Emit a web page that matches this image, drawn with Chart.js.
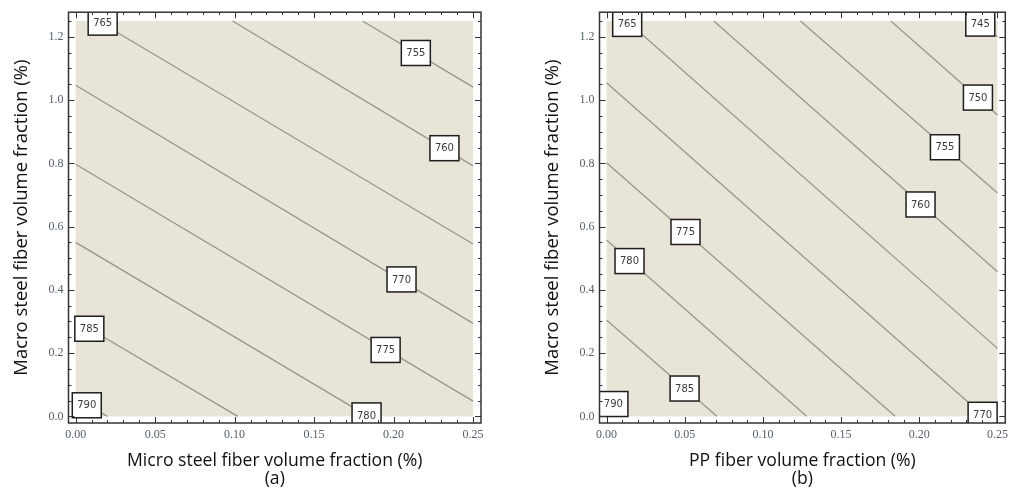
<!DOCTYPE html>
<html>
<head>
<meta charset="utf-8">
<script src="https://cdn.jsdelivr.net/npm/chart.js@4.4.1/dist/chart.umd.min.js"></script>
<style>
  body { margin: 0; background: #fff; width: 1013px; height: 498px; position: relative; overflow: hidden; }
  .plot { position: absolute; top: 0; height: 498px; }
  #plotA { left: 0; width: 500px; }
  #plotB { left: 531px; width: 482px; }
</style>
</head>
<body>
<div class="plot" id="plotA"><canvas id="chartA"></canvas></div>
<div class="plot" id="plotB"><canvas id="chartB"></canvas></div>
<script>
// ***** DATA *****

// shared axes
const xTicks = [0.00, 0.05, 0.10, 0.15, 0.20, 0.25];
const yTicks = [0.0, 0.2, 0.4, 0.6, 0.8, 1.0, 1.2];
const xDomain = [0, 0.25];
const yDomain = [0, 1.25];

// (a) micro steel vs macro steel
const levelsA = [755, 760, 765, 770, 775, 780, 785, 790];
const lineStartA = [[0.1805, 1.25], [0.0987, 1.25], [0.014, 1.25], [0, 1.047], [0, 0.797], [0, 0.550], [0, 0.303], [0, 0.056]];
const lineEndA = [[0.25, 1.041], [0.25, 0.792], [0.25, 0.545], [0.25, 0.294], [0.25, 0.048], [0.184, 0], [0.102, 0], [0.020, 0]];
const labelAtA = [[0.214, 1.149], [0.232, 0.848], [0.017, 1.245], [0.205, 0.433], [0.195, 0.210], [0.183, 0.003], [0.0086, 0.277], [0.007, 0.035]];

// (b) PP fiber vs macro steel
const levelsB = [745, 750, 755, 760, 765, 770, 775, 780, 785, 790];
const lineStartB = [[0.239, 1.25], [0.1818, 1.25], [0.124, 1.25], [0.0686, 1.25], [0.013, 1.25], [0, 1.055], [0, 0.802], [0, 0.558], [0, 0.305], [0, 0.052]];
const lineEndB = [[0.25, 1.200], [0.25, 0.953], [0.25, 0.706], [0.25, 0.457], [0.25, 0.215], [0.2414, 0], [0.1845, 0], [0.128, 0], [0.0706, 0], [0.0126, 0]];
const labelAtB = [[0.239, 1.242], [0.2375, 1.008], [0.2164, 0.851], [0.2008, 0.670], [0.0132, 1.241], [0.2405, 0.005], [0.0505, 0.583], [0.0147, 0.491], [0.0499, 0.088], [0.0044, 0.039]];

// ***** STYLE *****
const fillColor = '#e9e4d8';
const contourColor = '#99958b';
const frameColor = '#333333';
const tickFont = { family: '"Liberation Serif", "DejaVu Serif", serif', size: 12 };
const tickColor = '#55606a';
const titleFamily = '"Open Sans", Lato, sans-serif';

// ***** HELPERS *****

// minor tick positions between the majors (5 parts on x, 4 parts on y)
function minorTicks(majors, parts, upTo){
  let out = [];
  let step = (majors[1] - majors[0]) / parts;
  for (let v = majors[0]; v <= upTo + 1e-9; v += step){
    out.push(Math.round(v * 1000) / 1000);
  }
  return out;
}

function buildDatasets(levels, starts, ends){
  let sets = [];
  for (let i = 0; i < levels.length; i++){
    sets.push({
      label: String(levels[i]),
      data: [{ x: starts[i][0], y: starts[i][1] }, { x: ends[i][0], y: ends[i][1] }],
      showLine: true,
      borderColor: contourColor,
      borderWidth: 1.3,
      pointRadius: 0
    });
  }
  return sets;
}

// ***** PLUGIN: domain fill, contour labels, Mathematica-like frame *****
const contourFrame = {
  id: 'contourFrame',
  beforeDatasetsDraw(chart){
    const { ctx, scales: { x, y } } = chart;
    let x0 = x.getPixelForValue(xDomain[0]);
    let x1 = x.getPixelForValue(xDomain[1]);
    let y0 = y.getPixelForValue(yDomain[0]);
    let y1 = y.getPixelForValue(yDomain[1]);
    ctx.save();
    ctx.fillStyle = fillColor;
    ctx.fillRect(x0, y1, x1 - x0, y0 - y1);
    ctx.restore();
  },
  afterDatasetsDraw(chart, args, opts){
    const { ctx, chartArea, scales: { x, y } } = chart;
    ctx.save();
    ctx.beginPath();
    ctx.rect(chartArea.left, chartArea.top, chartArea.right - chartArea.left, chartArea.bottom - chartArea.top);
    ctx.clip();
    ctx.font = '10px "DejaVu Sans", sans-serif';
    ctx.textAlign = 'center';
    ctx.textBaseline = 'middle';
    for (let i = 0; i < opts.levels.length; i++){
      let cx = x.getPixelForValue(opts.labelAt[i][0]);
      let cy = y.getPixelForValue(opts.labelAt[i][1]);
      ctx.fillStyle = '#ffffff';
      ctx.fillRect(cx - 14.5, cy - 12.5, 29, 25);
      ctx.strokeStyle = '#1e1e1e';
      ctx.lineWidth = 1.5;
      ctx.strokeRect(cx - 14.5, cy - 12.5, 29, 25);
      ctx.fillStyle = '#3a3a3a';
      ctx.fillText(String(opts.levels[i]), cx, cy + 0.5);
    }
    ctx.restore();
  },
  afterDraw(chart){
    const { ctx, chartArea: a, scales: { x, y } } = chart;
    ctx.save();
    ctx.strokeStyle = frameColor;
    ctx.lineWidth = 1;
    // ticks pointing inward on all four sides
    let drawX = (list, len) => {
      list.forEach(v => {
        let px = Math.round(x.getPixelForValue(v)) + 0.5;
        ctx.beginPath();
        ctx.moveTo(px, a.bottom); ctx.lineTo(px, a.bottom - len);
        ctx.moveTo(px, a.top); ctx.lineTo(px, a.top + len);
        ctx.stroke();
      });
    };
    let drawY = (list, len) => {
      list.forEach(v => {
        let py = Math.round(y.getPixelForValue(v)) + 0.5;
        ctx.beginPath();
        ctx.moveTo(a.left, py); ctx.lineTo(a.left + len, py);
        ctx.moveTo(a.right, py); ctx.lineTo(a.right - len, py);
        ctx.stroke();
      });
    };
    drawX(minorTicks(xTicks, 5, 0.25), 3);
    drawY(minorTicks(yTicks, 4, 1.25), 3);
    drawX(xTicks, 6);
    drawY(yTicks, 6);
    ctx.lineWidth = 1.5;
    ctx.strokeRect(a.left, a.top, a.right - a.left, a.bottom - a.top);
    ctx.restore();
  }
};

// ***** CHART BUILDER *****
function makeChart(canvasId, xTitle, tag, levels, starts, ends, labelAt, rightPad){
  const ctx = document.getElementById(canvasId).getContext('2d');
  return new Chart(ctx, {
    type: 'scatter',
    data: { datasets: buildDatasets(levels, starts, ends) },
    plugins: [contourFrame],
    options: {
      responsive: true,
      maintainAspectRatio: false,
      animation: false,
      events: [],
      layout: { padding: { left: 0, top: 11.7, right: rightPad, bottom: 0 } },
      plugins: {
        legend: { display: false },
        tooltip: { enabled: false },
        contourFrame: { levels: levels, labelAt: labelAt }
      },
      scales: {
        x: {
          type: 'linear',
          min: -0.0045,
          max: 0.255,
          afterBuildTicks: (scale) => { scale.ticks = xTicks.map(v => ({ value: v })); },
          afterFit: (scale) => { scale.height = 75; },
          grid: { display: false, drawTicks: false },
          border: { display: false },
          ticks: {
            padding: 5,
            font: tickFont,
            color: tickColor,
            maxRotation: 0,
            callback: (v) => Number(v).toFixed(2)
          },
          title: {
            display: true,
            text: [xTitle, tag],
            font: { family: titleFamily, size: 17.6, lineHeight: 1.03 },
            color: '#111',
            padding: { top: 0, bottom: 10 }
          }
        },
        y: {
          type: 'linear',
          min: -0.021,
          max: 1.278,
          afterBuildTicks: (scale) => { scale.ticks = yTicks.map(v => ({ value: v })); },
          afterFit: (scale) => { scale.width = 68.5; },
          grid: { display: false, drawTicks: false },
          border: { display: false },
          ticks: {
            padding: 5,
            font: tickFont,
            color: tickColor,
            callback: (v) => Number(v).toFixed(1)
          },
          title: {
            display: true,
            text: 'Macro steel fiber volume fraction (%)',
            font: { family: titleFamily, size: 18.5, lineHeight: 1.2 },
            color: '#111',
            padding: { top: 11, bottom: 0 }
          }
        }
      }
    }
  });
}

makeChart('chartA', 'Micro steel fiber volume fraction (%)', '(a)', levelsA, lineStartA, lineEndA, labelAtA, 19);
makeChart('chartB', 'PP fiber volume fraction (%)', '(b)', levelsB, lineStartB, lineEndB, labelAtB, 1.5);
</script>
</body>
</html>
